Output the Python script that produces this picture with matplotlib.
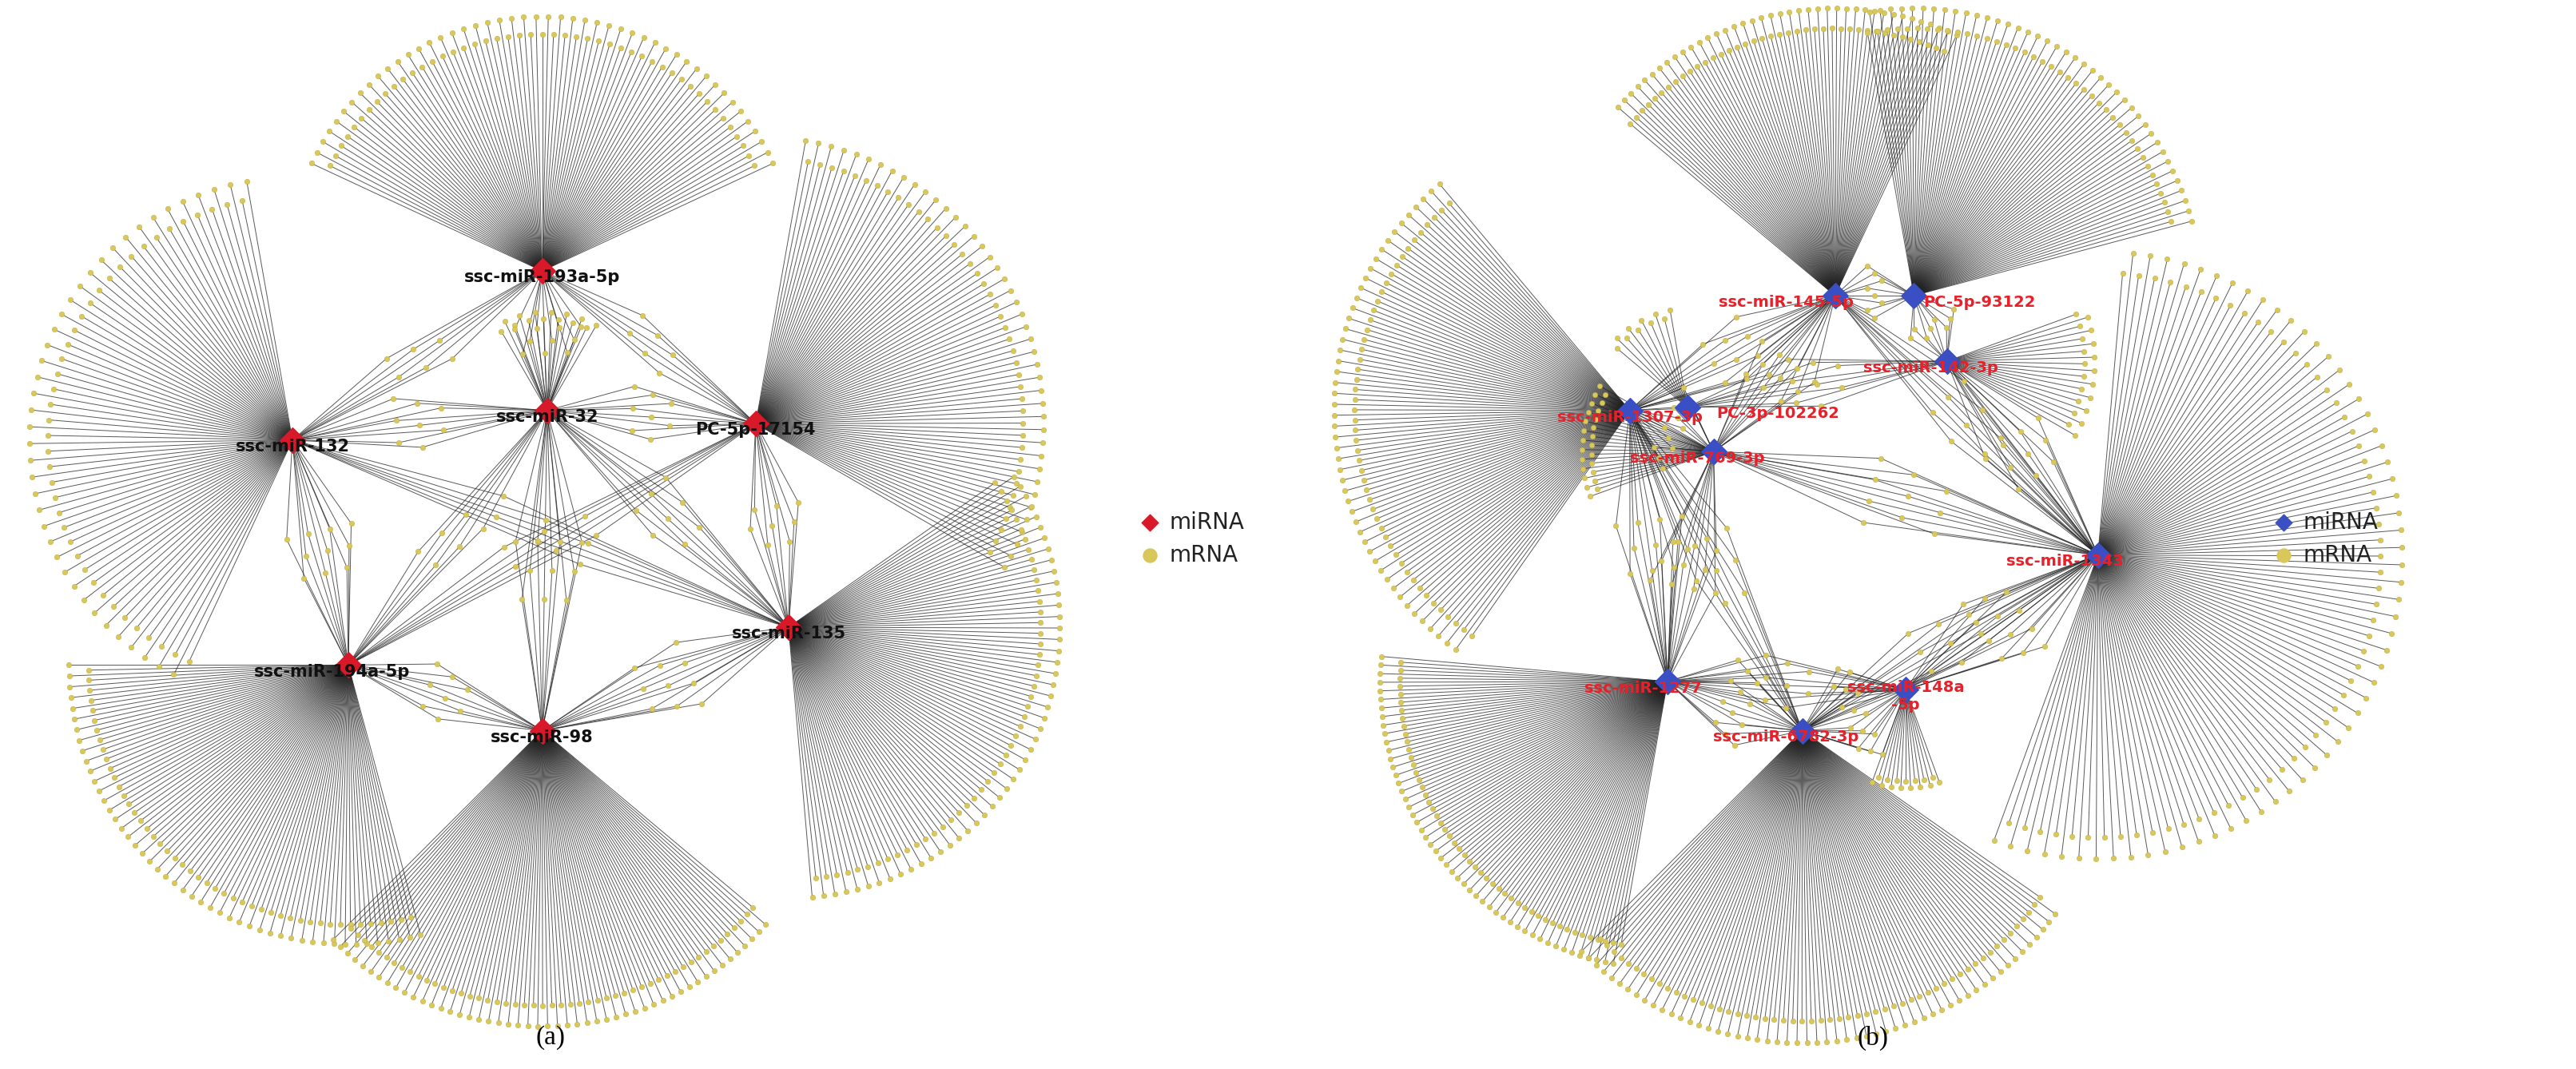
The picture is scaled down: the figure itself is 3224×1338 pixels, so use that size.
import numpy as np
import matplotlib
matplotlib.use("Agg")
import matplotlib.pyplot as plt
from matplotlib.collections import LineCollection

# ---- data (display coordinates, panel layout) ----
a_names = ["ssc-miR-193a-5p", "ssc-miR-132", "ssc-miR-32", "PC-5p-17154",
           "ssc-miR-194a-5p", "ssc-miR-135", "ssc-miR-98"]
a_x = [330, 178, 333, 460, 212, 480, 330]
a_y = [165, 268, 250, 258, 405, 382, 445]
a_n = [95, 80, 14, 85, 95, 100, 100]
a_fan0 = [25, 100, 60, -30, 180, -85, 225]
a_fan1 = [155, 245, 120, 80, 285, 35, 320]
a_rad = [155, 160, 60, 175, 170, 165, 180]
a_pairs = [(0, 2, 10), (1, 2, 8), (2, 3, 8), (1, 4, 10), (4, 6, 8), (5, 6, 10),
           (3, 5, 8), (0, 3, 6), (0, 1, 6), (2, 6, 10), (1, 5, 6), (4, 3, 6), (2, 5, 8), (2, 4, 6)]
a_ldx = [0, 0, 0, 0, -10, 0, 0]

b_names = ["ssc-miR-145-5p", "PC-5p-93122", "ssc-miR-142-3p", "ssc-miR-1307-3p",
           "PC-3p-102262", "ssc-miR-769-3p", "ssc-miR-1343", "ssc-miR-1277",
           "ssc-miR-148a\n-5p", "ssc-miR-6782-3p"]
b_x = [1117, 1165, 1185, 992, 1027, 1043, 1277, 1015, 1160, 1097]
b_y = [180, 180, 220, 250, 248, 275, 338, 415, 420, 445]
b_n = [80, 80, 20, 100, 10, 25, 120, 100, 15, 110]
b_fan0 = [65, 15, -30, 130, 100, 150, -110, 175, 250, 225]
b_fan1 = [140, 100, 20, 235, 140, 200, 85, 260, 290, 325]
b_rad = [175, 175, 90, 180, 60, 80, 185, 175, 60, 190]
b_pairs = [(0, 1, 8), (0, 3, 10), (3, 5, 12), (5, 6, 10), (7, 9, 12), (8, 9, 14),
           (6, 8, 12), (2, 6, 10), (0, 5, 10), (7, 5, 10), (1, 2, 8), (3, 7, 10),
           (9, 6, 8), (4, 2, 8), (7, 8, 8), (0, 6, 8), (3, 9, 8)]
b_ldx = [-30, 40, -10, 0, 55, -10, -20, -15, 0, -10]

YEL = "#D9C75A"

fig = plt.figure(figsize=(32.24, 13.38), dpi=100)
ax = fig.add_axes([0, 0, 1, 1])
ax.set_xlim(0, 1568)
ax.set_ylim(651, 0)
ax.axis("off")


def draw(names, xs, ys, ns, f0, f1, rads, pairs, ldx, hubcol, labcol, labsize):
    pts = []
    segs = []
    for i in range(len(names)):
        ang = np.radians(np.linspace(f0[i], f1[i], ns[i]))
        for k, a in enumerate(ang):
            r = rads[i] * (1.0 if k % 2 == 0 else 0.93)
            px, py = xs[i] + r * np.cos(a), ys[i] - r * np.sin(a)
            pts.append((px, py))
            segs.append(((xs[i], ys[i]), (px, py)))
    for (i, j, c) in pairs:
        mx, my = (xs[i] + xs[j]) / 2, (ys[i] + ys[j]) / 2
        dx, dy = xs[j] - xs[i], ys[j] - ys[i]
        L = np.hypot(dx, dy)
        nx, ny = -dy / L, dx / L
        for k in range(c):
            off = (k - c / 2) * 4.5
            t = 0.3 * ((k % 3) - 1)
            px = mx + nx * off + dx * t * 0.3
            py = my + ny * off + dy * t * 0.3
            pts.append((px, py))
            segs.append(((xs[i], ys[i]), (px, py)))
            segs.append(((xs[j], ys[j]), (px, py)))
    ax.add_collection(LineCollection(segs, colors="#222222", linewidths=0.7, alpha=0.75, zorder=1))
    p = np.array(pts)
    ax.scatter(p[:, 0], p[:, 1], s=22, color=YEL, edgecolor="#b8a840", linewidth=0.3, zorder=2)
    ax.scatter(xs, ys, s=260, marker="D", color=hubcol, zorder=3)
    for i, nm in enumerate(names):
        ax.text(xs[i] + ldx[i], ys[i] + 4, nm, ha="center", va="center", fontsize=labsize,
                color=labcol, fontweight="bold", zorder=4)


draw(a_names, a_x, a_y, a_n, a_fan0, a_fan1, a_rad, a_pairs, a_ldx, "#D7192A", "#111111", 15)
draw(b_names, b_x, b_y, b_n, b_fan0, b_fan1, b_rad, b_pairs, b_ldx, "#3A4FC4", "#E8202A", 14)

for lx, col in [(700, "#D7192A"), (1390, "#3A4FC4")]:
    ax.scatter([lx], [318], marker="D", s=110, color=col)
    ax.scatter([lx], [338], marker="o", s=150, color=YEL)
    ax.text(lx + 12, 318, "miRNA", fontsize=20, va="center", color="#222222")
    ax.text(lx + 12, 338, "mRNA", fontsize=20, va="center", color="#222222")

ax.text(335, 632, "(a)", fontsize=24, ha="center", va="center", family="Liberation Serif")
ax.text(1140, 632, "(b)", fontsize=24, ha="center", va="center", family="Liberation Serif")

fig.savefig("out.png", dpi=100, facecolor="white")
